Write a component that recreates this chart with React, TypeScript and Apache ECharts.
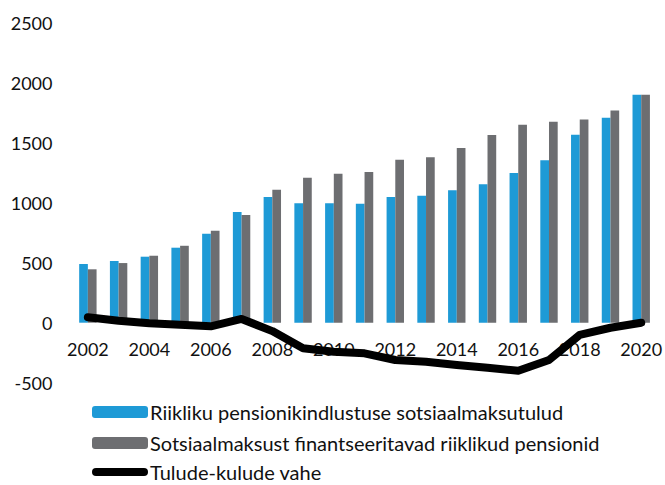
import React, { useEffect, useRef } from "react";
import * as echarts from "echarts";

const years = ["2002","2003","2004","2005","2006","2007","2008","2009","2010","2011","2012","2013","2014","2015","2016","2017","2018","2019","2020"];
const revenue = [489, 514, 550, 625, 741, 922, 1047, 995, 995, 991, 1047, 1058, 1103, 1153, 1247, 1353, 1566, 1708, 1900];
const pensions = [445, 497, 558, 641, 766, 897, 1108, 1208, 1241, 1255, 1358, 1378, 1455, 1564, 1650, 1675, 1694, 1769, 1900];
const difference = [45, 17, -5, -17, -30, 31, -70, -213, -242, -255, -311, -325, -352, -375, -400, -311, -102, -42, 0];
const seriesNames = [
  "Riikliku pensionikindlustuse sotsiaalmaksutulud",
  "Sotsiaalmaksust finantseeritavad riiklikud pensionid",
  "Tulude-kulude vahe",
];

export default function App() {
  const ref = useRef<HTMLDivElement>(null);
  useEffect(() => {
    if (!ref.current) return;
    const chart = echarts.init(ref.current, undefined, { renderer: "svg" });
    const font = "Lato, 'Open Sans', sans-serif";
    const legendText = { fontSize: 20, lineHeight: 18, color: "#111", fontFamily: font, padding: [0, 0, 0, -3] };
    chart.setOption({
      animation: false,
      textStyle: { fontFamily: font },
      grid: { left: 72.5, right: 4.5, top: 22.7, bottom: 102.3, containLabel: false },
      legend: [
        {
          left: 92, top: 402, padding: 0, itemWidth: 56, itemHeight: 12,
          textStyle: legendText,
          data: [{ name: seriesNames[0] }],
        },
        {
          left: 92, top: 433, padding: 0, itemWidth: 56, itemHeight: 12,
          textStyle: legendText,
          data: [{ name: seriesNames[1] }],
        },
        {
          left: 92, top: 462, padding: 0, itemWidth: 56, itemHeight: 8,
          textStyle: legendText,
          data: [{ name: seriesNames[2], icon: "path://M4,0 H52 A4,4 0 0 1 52,8 H4 A4,4 0 0 1 4,0 Z" }],
        },
      ],
      xAxis: {
        type: "category",
        data: years,
        position: "bottom",
        offset: -60,
        axisLine: { show: false, onZero: false },
        axisTick: { show: false },
        axisLabel: { interval: 1, fontSize: 18, color: "#111", margin: 17, fontFamily: font },
        splitLine: { show: false },
      },
      yAxis: {
        type: "value",
        min: -500,
        max: 2500,
        interval: 500,
        axisLine: { show: false },
        axisTick: { show: false },
        splitLine: { show: false },
        axisLabel: { fontSize: 18, color: "#111", margin: 20, fontFamily: font, formatter: (v: number) => String(v) },
      },
      series: [
        {
          name: seriesNames[0],
          type: "bar",
          data: revenue,
          barWidth: 8.7,
          barGap: "0%",
          itemStyle: { color: "#1E9AD6" },
        },
        {
          name: seriesNames[1],
          type: "bar",
          data: pensions,
          barWidth: 8.7,
          barGap: "0%",
          itemStyle: { color: "#6D6E71" },
        },
        {
          name: seriesNames[2],
          type: "line",
          data: difference,
          symbol: "none",
          z: 5,
          lineStyle: { color: "#000", width: 8, cap: "round", join: "round" },
          itemStyle: { color: "#000" },
        },
      ],
    });
    return () => chart.dispose();
  }, []);
  return <div ref={ref} style={{ width: 665, height: 485, position: "absolute", left: 0, top: 0 }} />;
}
